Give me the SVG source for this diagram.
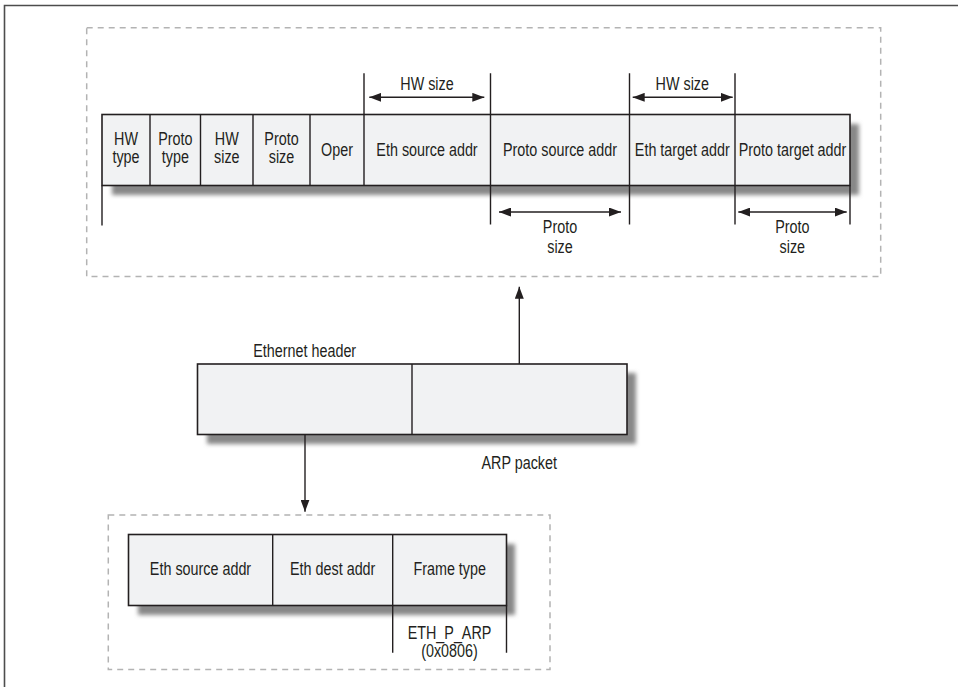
<svg xmlns="http://www.w3.org/2000/svg" width="958" height="687" viewBox="0 0 958 687">
  <style>
    .t { font-family: "Liberation Sans", Arial, sans-serif; font-size: 17.5px; fill: #231f20; text-anchor: middle; }
    .box { fill: #f1f2f3; stroke: #231f20; stroke-width: 1.6; }
    .ln { stroke: #231f20; stroke-width: 1.4; fill: none; }
    .dash { fill: none; stroke: #b3b3b3; stroke-width: 1.5; stroke-dasharray: 6 5; }
    .shadow { fill: #888888; filter: url(#blur); }
    .frame { stroke: #4d4d4d; stroke-width: 1.6; fill: none; }
  </style>
  <defs>
    <filter id="blur" x="-5%" y="-40%" width="110%" height="180%">
      <feGaussianBlur stdDeviation="2"/>
    </filter>
    <marker id="ah" markerUnits="userSpaceOnUse" markerWidth="12" markerHeight="9" refX="12" refY="4.5" orient="auto-start-reverse" viewBox="0 0 12 9">
      <path d="M0,0 L12,4.5 L0,9 z" fill="#231f20"/>
    </marker>
  </defs>

  <rect width="958" height="687" fill="#ffffff"/>
  <path class="frame" d="M4.5,687 V5.5 H958"/>

  <!-- ARP packet detail -->
  <g id="arp-packet-detail">
    <rect class="dash" x="86.7" y="27.7" width="794" height="248.8"/>
    <rect class="shadow" x="112" y="124" width="747" height="71"/>
    <rect class="box" x="102" y="114.5" width="748" height="71"/>
    <path class="ln" d="M150,114.5 V185.5 M200.5,114.5 V185.5 M253,114.5 V185.5 M310,114.5 V185.5 M364,73.3 V185.5 M490.5,73.3 V224.5 M629.5,73.3 V224.5 M735,73.3 V224.5 M850,185.5 V224.5 M102,185.5 V225.5"/>
    <text class="t" x="0" y="145" transform="translate(126 0) scale(0.82 1)">HW</text>
    <text class="t" x="0" y="163.3" transform="translate(126 0) scale(0.82 1)">type</text>
    <text class="t" x="0" y="145" transform="translate(175.3 0) scale(0.82 1)">Proto</text>
    <text class="t" x="0" y="163.3" transform="translate(175.3 0) scale(0.82 1)">type</text>
    <text class="t" x="0" y="145" transform="translate(226.8 0) scale(0.82 1)">HW</text>
    <text class="t" x="0" y="163.3" transform="translate(226.8 0) scale(0.82 1)">size</text>
    <text class="t" x="0" y="145" transform="translate(281.5 0) scale(0.82 1)">Proto</text>
    <text class="t" x="0" y="163.3" transform="translate(281.5 0) scale(0.82 1)">size</text>
    <text class="t" x="0" y="156" transform="translate(337 0) scale(0.82 1)">Oper</text>
    <text class="t" x="0" y="156" transform="translate(427 0) scale(0.82 1)">Eth source addr</text>
    <text class="t" x="0" y="156" transform="translate(560 0) scale(0.82 1)">Proto source addr</text>
    <text class="t" x="0" y="156" transform="translate(682.3 0) scale(0.82 1)">Eth target addr</text>
    <text class="t" x="0" y="156" transform="translate(792.5 0) scale(0.82 1)">Proto target addr</text>
  </g>

  <g id="dimensions">
    <line class="ln" x1="369.3" y1="97.3" x2="484.3" y2="97.3" marker-start="url(#ah)" marker-end="url(#ah)"/>
    <line class="ln" x1="632.7" y1="97.3" x2="732.7" y2="97.3" marker-start="url(#ah)" marker-end="url(#ah)"/>
    <line class="ln" x1="499" y1="212" x2="621" y2="212" marker-start="url(#ah)" marker-end="url(#ah)"/>
    <line class="ln" x1="738.3" y1="212" x2="846.7" y2="212" marker-start="url(#ah)" marker-end="url(#ah)"/>
    <text class="t" x="0" y="90" transform="translate(427 0) scale(0.82 1)">HW size</text>
    <text class="t" x="0" y="90" transform="translate(682.3 0) scale(0.82 1)">HW size</text>
    <text class="t" x="0" y="233.3" transform="translate(560 0) scale(0.82 1)">Proto</text>
    <text class="t" x="0" y="252.7" transform="translate(560 0) scale(0.82 1)">size</text>
    <text class="t" x="0" y="233.3" transform="translate(792.3 0) scale(0.82 1)">Proto</text>
    <text class="t" x="0" y="252.7" transform="translate(792.3 0) scale(0.82 1)">size</text>
  </g>

  <!-- Frame (Ethernet header + ARP packet) -->
  <g id="frame-packet">
    <rect class="shadow" x="207" y="373" width="429" height="71"/>
    <rect class="box" x="197.5" y="364" width="429.5" height="70.5"/>
    <line class="ln" x1="412" y1="364" x2="412" y2="434.5"/>
    <text class="t" x="0" y="357" transform="translate(304.7 0) scale(0.82 1)">Ethernet header</text>
    <text class="t" x="0" y="469" transform="translate(519.2 0) scale(0.82 1)">ARP packet</text>
  </g>

  <!-- Ethernet header detail -->
  <g id="ethernet-header-detail">
    <rect class="dash" x="108.3" y="515" width="441.7" height="154.5"/>
    <rect class="shadow" x="138" y="544" width="377" height="71"/>
    <rect class="box" x="128.5" y="534.5" width="378" height="71"/>
    <path class="ln" d="M272.7,534.5 V605.5 M392.7,534.5 V652.7 M506.5,605.5 V652.7"/>
    <text class="t" x="0" y="575.5" transform="translate(200.5 0) scale(0.82 1)">Eth source addr</text>
    <text class="t" x="0" y="575.5" transform="translate(332.7 0) scale(0.82 1)">Eth dest addr</text>
    <text class="t" x="0" y="575.5" transform="translate(449.7 0) scale(0.82 1)">Frame type</text>
    <text class="t" x="0" y="639.3" transform="translate(449.5 0) scale(0.82 1)">ETH_P_ARP</text>
    <text class="t" x="0" y="657.5" transform="translate(449.5 0) scale(0.82 1)">(0x0806)</text>
  </g>

  <g id="connectors">
    <line class="ln" x1="519.3" y1="364" x2="519.3" y2="286.7" marker-end="url(#ah)"/>
    <line class="ln" x1="305" y1="434.5" x2="305" y2="511.7" marker-end="url(#ah)"/>
  </g>
</svg>
